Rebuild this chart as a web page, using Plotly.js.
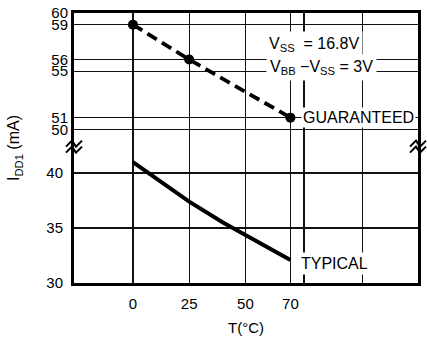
<!DOCTYPE html>
<html>
<head>
<meta charset="utf-8">
<script src="https://cdn.plot.ly/plotly-3.0.1.min.js"></script>
<style>html,body{margin:0;padding:0;background:#fff;}#chart{width:427px;height:340px;}</style>
</head>
<body>
<div id="chart"></div>
<script>
// Data
var guaranteedT = [0, 25, 70];
var guaranteedI = [59, 56, 51];
var typicalT = [0, 10, 25, 40, 50, 60, 70];
var typicalI = [41.0, 39.6, 37.4, 35.5, 34.35, 33.2, 32.1];

var xTickVals = [0, 25, 50, 70, 76, 102];
var xTickText = ['0', '25', '50', '70', '', ''];
var yLowTicks = [30, 35, 40];
var yHighTicks = [50, 51, 55, 56, 59, 60];

var FONT = '"Liberation Sans", Arial, Helvetica, sans-serif';

var traces = [
  {
    x: typicalT, y: typicalI, yaxis: 'y', type: 'scatter', mode: 'lines',
    line: {color: '#000', width: 4}, hoverinfo: 'skip', showlegend: false
  },
  {
    x: guaranteedT, y: guaranteedI, yaxis: 'y2', type: 'scatter', mode: 'lines+markers',
    line: {color: '#000', width: 3.8, dash: '11px,6px'},
    marker: {color: '#000', size: 10}, hoverinfo: 'skip', showlegend: false
  }
];

// break marks (decorative), drawn in paper coordinates from pixel offsets
var plotW = 344, plotH = 270;
function breakPath(px, py) {
  var pts = [[-8, 3], [-2, -3], [2, 3], [8, -3]];
  var d = '';
  [-3, 3].forEach(function (off) {
    pts.forEach(function (p, i) {
      var x = px + p[0] / plotW;
      var y = py + (-(p[1] + off)) / plotH;
      d += (i === 0 ? 'M ' : ' L ') + x.toFixed(4) + ',' + y.toFixed(4);
    });
    d += ' ';
  });
  return d;
}
var breakY = 0.505;

var layout = {
  width: 427, height: 340,
  margin: {l: 74, r: 9, t: 13, b: 57},
  paper_bgcolor: '#fff', plot_bgcolor: '#fff',
  font: {family: FONT, size: 15, color: '#000'},
  showlegend: false,
  xaxis: {
    range: [-26.2, 126.7], tickvals: xTickVals, ticktext: xTickText,
    ticks: '', showgrid: true, gridcolor: '#111', gridwidth: 1.2,
    zeroline: false, showline: true, linecolor: '#000', linewidth: 3, mirror: true,
    ticklabelstandoff: 5,
    tickfont: {size: 15, family: FONT},
    title: {text: 'T(°C)', font: {size: 15, family: FONT}, standoff: 12}
  },
  yaxis: {
    range: [30, 54.55], tickvals: yLowTicks,
    ticks: '', showgrid: true, gridcolor: '#111', gridwidth: 1.2,
    zeroline: false, showline: true, linecolor: '#000', linewidth: 3, mirror: true,
    ticklabelstandoff: 5,
    tickfont: {size: 15, family: FONT},
    title: {text: 'I<sub>DD1</sub> (mA)', font: {size: 16, family: FONT}, standoff: 23}
  },
  yaxis2: {
    range: [36.78, 60], tickvals: yHighTicks, overlaying: 'y', side: 'left',
    ticks: '', showgrid: true, gridcolor: '#111', gridwidth: 1.2,
    zeroline: false, showline: false,
    ticklabelstandoff: 5,
    tickfont: {size: 15, family: FONT}
  },
  annotations: [
    {x: 58.5, y: 57.25, xref: 'x', yref: 'y2', xanchor: 'left', yanchor: 'middle',
     text: 'V<sub>SS</sub>  = 16.8V', showarrow: false, bgcolor: '#fff', borderpad: 3,
     font: {size: 16, family: FONT}},
    {x: 59, y: 55.3, xref: 'x', yref: 'y2', xanchor: 'left', yanchor: 'middle',
     text: 'V<sub>BB</sub> \u2212V<sub>SS</sub> = 3V', showarrow: false, bgcolor: '#fff', borderpad: 3,
     font: {size: 16, family: FONT}},
    {x: 74.5, y: 51, xref: 'x', yref: 'y2', xanchor: 'left', yanchor: 'middle',
     text: 'GUARANTEED', showarrow: false, bgcolor: '#fff', borderpad: 1,
     font: {size: 16, family: FONT}},
    {x: 73.5, y: 31.8, xref: 'x', yref: 'y', xanchor: 'left', yanchor: 'middle',
     text: 'TYPICAL', showarrow: false, bgcolor: '#fff', borderpad: 2,
     font: {size: 16, family: FONT}}
  ],
  shapes: [
    {type: 'path', xref: 'paper', yref: 'paper', path: breakPath(0, breakY),
     line: {color: '#000', width: 2}},
    {type: 'path', xref: 'paper', yref: 'paper', path: breakPath(1, breakY),
     line: {color: '#000', width: 2}}
  ]
};

Plotly.newPlot('chart', traces, layout, {staticPlot: true, displayModeBar: false});
</script>
</body>
</html>
